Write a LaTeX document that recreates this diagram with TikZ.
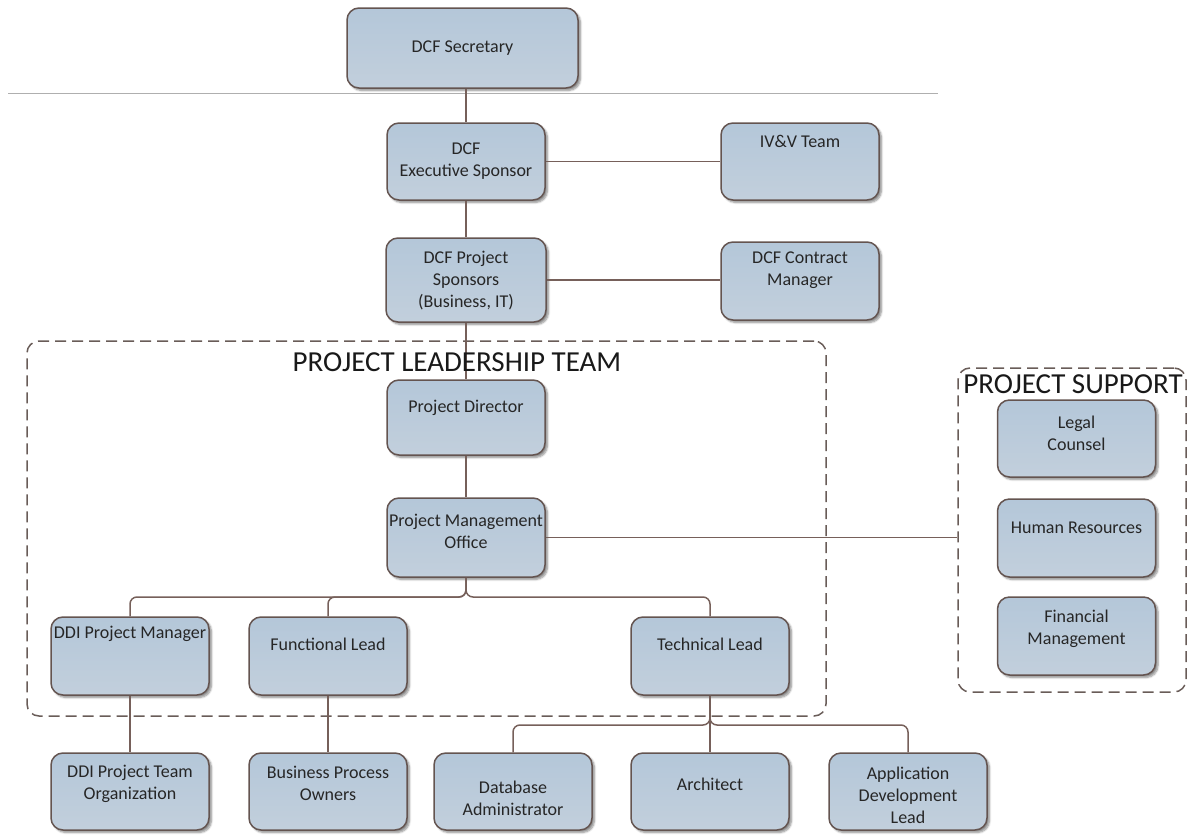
\documentclass[tikz,border=0pt]{standalone}
\usepackage{fontspec}
\setmainfont{Carlito}
\usetikzlibrary{shadows.blur}
\definecolor{boxtop}{RGB}{180,199,217}
\definecolor{boxbot}{RGB}{194,207,220}
\definecolor{edge}{RGB}{100,84,80}
\definecolor{linkc}{RGB}{118,96,90}
\definecolor{groupc}{RGB}{105,92,88}
\definecolor{rulec}{RGB}{175,175,175}
\begin{document}
\begin{tikzpicture}[x=1pt,y=-1pt,
  orgbox/.style={draw=edge, line width=1.5pt, rounded corners=12pt,
    top color=boxtop, bottom color=boxbot,
    blur shadow={shadow xshift=2.5pt, shadow yshift=-2.5pt, shadow blur steps=6, shadow opacity=45},
    inner sep=0pt, minimum width=158pt, minimum height=78pt},
  lbl/.style={font=\fontsize{18}{22}\selectfont, align=center, text=black!85, inner sep=0pt},
  linkline/.style={draw=linkc, line width=1.5pt},
  group/.style={draw=groupc, line width=1.5pt, dash pattern=on 11pt off 6pt, rounded corners=12pt, inner sep=0pt},
  grouptitle/.style={font=\fontsize{29}{32}\selectfont, inner sep=0pt, text=black!90}
]
\useasboundingbox (0,0) rectangle (1187,835);

% thin separator under the secretary
\draw[rulec, line width=0.8pt] (8,93) -- (938,93);

% dashed groupings
\node[group, minimum width=799pt, minimum height=375pt] (lead) at (426.5,528.5) {};
\node[group, minimum width=228pt, minimum height=324pt] (support) at (1072,530) {};

% boxes
\node[orgbox, minimum width=231pt, minimum height=80pt] (sec) at (462.5,48) {};
\node[orgbox, minimum height=77pt] (exe) at (466,161.5) {};
\node[orgbox, minimum height=77pt] (ivv) at (800,161.5) {};
\node[orgbox, minimum width=160pt, minimum height=84pt] (ps) at (466,280) {};
\node[orgbox] (cm) at (800,281) {};
\node[orgbox, minimum height=75pt] (pd) at (466,417.5) {};
\node[orgbox, minimum height=79pt] (pmo) at (466,537.5) {};
\node[orgbox] (ddi) at (130,656) {};
\node[orgbox] (fl) at (328,656) {};
\node[orgbox] (tl) at (710,656) {};
\node[orgbox, minimum height=77pt] (team) at (130,791.5) {};
\node[orgbox, minimum height=77pt] (bpo) at (328,791.5) {};
\node[orgbox, minimum height=77pt] (dba) at (513,791.5) {};
\node[orgbox, minimum height=77pt] (arch) at (710,791.5) {};
\node[orgbox, minimum height=77pt] (adl) at (908,791.5) {};
\node[orgbox, minimum height=77pt] (legal) at (1076.5,438.5) {};
\node[orgbox] (hr) at (1076.5,538) {};
\node[orgbox] (fin) at (1076.5,636) {};

% bus points of the two forks
\coordinate (bus1) at (466,597);
\coordinate (bus2) at (710,725);

% connectors
\draw[linkline] (sec.south -| exe.north) -- (exe.north);
\draw[linkline] (exe.east) -- (ivv.west);
\draw[linkline] (exe.south) -- (ps.north);
\draw[linkline] (ps.east) -- (ps.east -| cm.west);
\draw[linkline] (ps.south) -- (pd.north);
\draw[linkline] (pd.south) -- (pmo.north);
\draw[linkline] (pmo.east) -- (pmo.east -| support.west);
\draw[linkline, rounded corners=7pt] (pmo.south) -- (bus1) -- (bus1 -| ddi.north) -- (ddi.north);
\draw[linkline, rounded corners=7pt] (pmo.south) -- (bus1) -- (bus1 -| fl.north) -- (fl.north);
\draw[linkline, rounded corners=7pt] (pmo.south) -- (bus1) -- (bus1 -| tl.north) -- (tl.north);
\draw[linkline] (ddi.south) -- (team.north);
\draw[linkline] (fl.south) -- (bpo.north);
\draw[linkline, rounded corners=7pt] (tl.south) -- (bus2) -- (bus2 -| dba.north) -- (dba.north);
\draw[linkline] (tl.south) -- (arch.north);
\draw[linkline, rounded corners=7pt] (tl.south) -- (bus2) -- (bus2 -| adl.north) -- (adl.north);

% group titles
\node[grouptitle] (leadtitle) at (457,362) {PROJECT LEADERSHIP TEAM};
\node[grouptitle] (supporttitle) at (1073,384) {PROJECT SUPPORT};

% box labels
\node[lbl] (sec-t) at (462.5,48) {DCF Secretary};
\node[lbl] (exe-t) at (466,161) {DCF\\Executive Sponsor};
\node[lbl] (ivv-t) at (800,141) {IV\&V Team};
\node[lbl] (ps-t) at (466,281) {DCF Project\\Sponsors\\(Business, IT)};
\node[lbl] (cm-t) at (800,270) {DCF Contract\\Manager};
\node[lbl] (pd-t) at (466,408) {Project Director};
\node[lbl] (pmo-t) at (466,531.5) {Project Management\\Office};
\node[lbl] (ddi-t) at (130,634) {DDI Project Manager};
\node[lbl] (fl-t) at (328,644) {Functional Lead};
\node[lbl] (tl-t) at (710,644) {Technical Lead};
\node[lbl] (team-t) at (130,783.5) {DDI Project Team\\Organization};
\node[lbl] (bpo-t) at (328,783.5) {Business Process\\Owners};
\node[lbl] (dba-t) at (513,798) {Database\\Administrator};
\node[lbl] (arch-t) at (710,784) {Architect};
\node[lbl] (adl-t) at (908,795.5) {Application\\Development\\Lead};
\node[lbl] (legal-t) at (1076.5,433.5) {Legal\\Counsel};
\node[lbl] (hr-t) at (1076.5,528) {Human Resources};
\node[lbl] (fin-t) at (1076.5,629) {Financial\\Management};
\end{tikzpicture}
\end{document}
